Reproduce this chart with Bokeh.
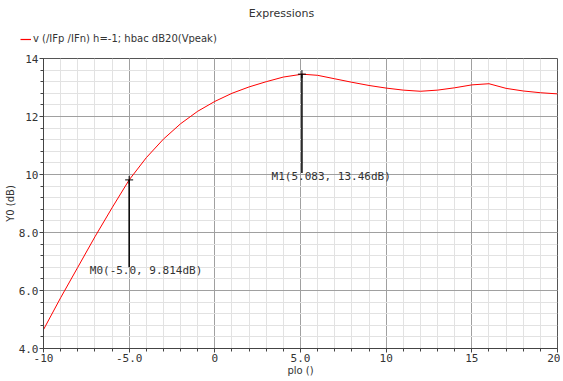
from bokeh.plotting import figure
from bokeh.layouts import column, row
from bokeh.models import (FixedTicker, Legend, LegendItem, Label, Range1d)
from bokeh.embed import file_html
from bokeh.resources import INLINE

# ---- data ----
plo = [-10, -9, -8, -7, -6, -5, -4, -3, -2, -1, 0, 1, 2, 3, 4, 5, 5.083,
       6, 7, 8, 9, 10, 11, 12, 13, 14, 15, 16, 17, 18, 19, 20]
y0_db = [4.65, 5.75, 6.80, 7.85, 8.85, 9.814, 10.58, 11.22, 11.75, 12.18, 12.52,
         12.80, 13.02, 13.20, 13.36, 13.45, 13.46,
         13.42, 13.30, 13.18, 13.07, 12.98, 12.91, 12.87, 12.91, 12.99, 13.09,
         13.13, 12.97, 12.88, 12.82, 12.78]

marker_x = [-5.0, 5.083]
marker_y = [9.814, 13.46]
marker_texts = ["M0(-5.0, 9.814dB)", "M1(5.083, 13.46dB)"]

x_ticks = [-10, -5, 0, 5, 10, 15, 20]
x_tick_labels = ["-10", "-5.0", "0", "5.0", "10", "15", "20"]
y_ticks = [4, 6, 8, 10, 12, 14]
y_tick_labels = ["4.0", "6.0", "8.0", "10", "12", "14"]

title_text = "Expressions"
series_label = "v (/IFp /IFn) h=-1; hbac dB20(Vpeak)"

# label placement (layout only)
label_x = [-7.3, 3.31]
label_y = [6.69, 9.93]
line_end = [6.80, 10.05]

SANS = "DejaVu Sans"
MONO = "DejaVu Sans Mono"
RED = "#ff0000"

W = 560
TOP_H = 44
MAIN_H = 334

# ---- header figure: title + legend ----
top = figure(width=W, height=TOP_H, output_backend="svg", toolbar_location=None,
             title=None, x_range=Range1d(0, 1), y_range=Range1d(0, 1),
             x_axis_type=None, y_axis_type=None,
             min_border_left=0, min_border_right=0, min_border_top=0,
             min_border_bottom=0)
top.grid.visible = False
top.outline_line_color = None
top.background_fill_color = "white"
top.border_fill_color = "white"
top.add_layout(Label(x=281, y=TOP_H - 13, x_units="screen", y_units="screen",
                     text=title_text, text_font=SANS, text_font_size="11px",
                     text_color="#333333", text_align="center",
                     text_baseline="middle"))
# legend proxy: same series, lying outside this header's visible range
proxy = top.line(plo, y0_db, line_color=RED, line_width=1.2)
legend = Legend(items=[LegendItem(label=series_label, renderers=[proxy])],
                location=(20, 0), orientation="horizontal",
                label_text_font=SANS, label_text_font_size="10px",
                label_text_color="#333333",
                glyph_width=11, glyph_height=10, label_standoff=2,
                border_line_color=None, background_fill_alpha=0,
                padding=2, margin=0)
top.add_layout(legend, "center")

# ---- main plot ----
p = figure(width=W, height=MAIN_H, output_backend="svg", toolbar_location=None,
           title=None, x_range=Range1d(-10, 20), y_range=Range1d(4, 14),
           min_border_left=43, min_border_right=3, min_border_bottom=30,
           min_border_top=14)
p.background_fill_color = "white"
p.border_fill_color = "white"
p.outline_line_color = "#555555"

p.line(plo, y0_db, line_color=RED, line_width=1)

for ax in (p.xaxis, p.yaxis):
    ax.major_label_text_font = MONO
    ax.major_label_text_font_size = "11px"
    ax.major_label_text_color = "#333333"
    ax.axis_line_color = "#444444"
    ax.major_tick_line_color = "#444444"
    ax.minor_tick_line_color = "#444444"
    ax.major_tick_out = 4
    ax.major_tick_in = 0
    ax.minor_tick_out = 3
    ax.minor_tick_in = 0
    ax.axis_label_text_font = SANS
    ax.axis_label_text_font_size = "10px"
    ax.axis_label_text_font_style = "normal"
    ax.axis_label_text_color = "#333333"
    ax.axis_label_standoff = 0
    ax.major_label_standoff = 1

p.xaxis.ticker = FixedTicker(ticks=x_ticks, minor_ticks=list(range(-10, 21)))
p.xaxis.major_label_overrides = {t: l for t, l in zip(x_ticks, x_tick_labels)}
p.yaxis.ticker = FixedTicker(ticks=y_ticks,
                             minor_ticks=[round(4 + 0.4 * i, 2) for i in range(26)])
p.yaxis.major_label_overrides = {t: l for t, l in zip(y_ticks, y_tick_labels)}
p.xaxis.axis_label = "plo ()"
p.yaxis.axis_label = "Y0 (dB)"

p.xgrid.grid_line_color = "#a0a0a0"
p.ygrid.grid_line_color = "#a0a0a0"
p.xgrid.minor_grid_line_color = "#e2e2e2"
p.ygrid.minor_grid_line_color = "#e2e2e2"

# markers
p.segment(x0=marker_x, y0=marker_y, x1=marker_x, y1=line_end,
          line_color="black", line_width=1.5)
p.scatter(marker_x, marker_y, marker="cross", size=8, line_color="black",
          line_width=1)
for lx, ly, t in zip(label_x, label_y, marker_texts):
    p.add_layout(Label(x=lx, y=ly, text=t, text_font=MONO, text_font_size="11px",
                       text_color="#333333", text_baseline="middle"))

layout = column(row(top), p, spacing=0)
open("out.html", "w").write(file_html(layout, INLINE))
